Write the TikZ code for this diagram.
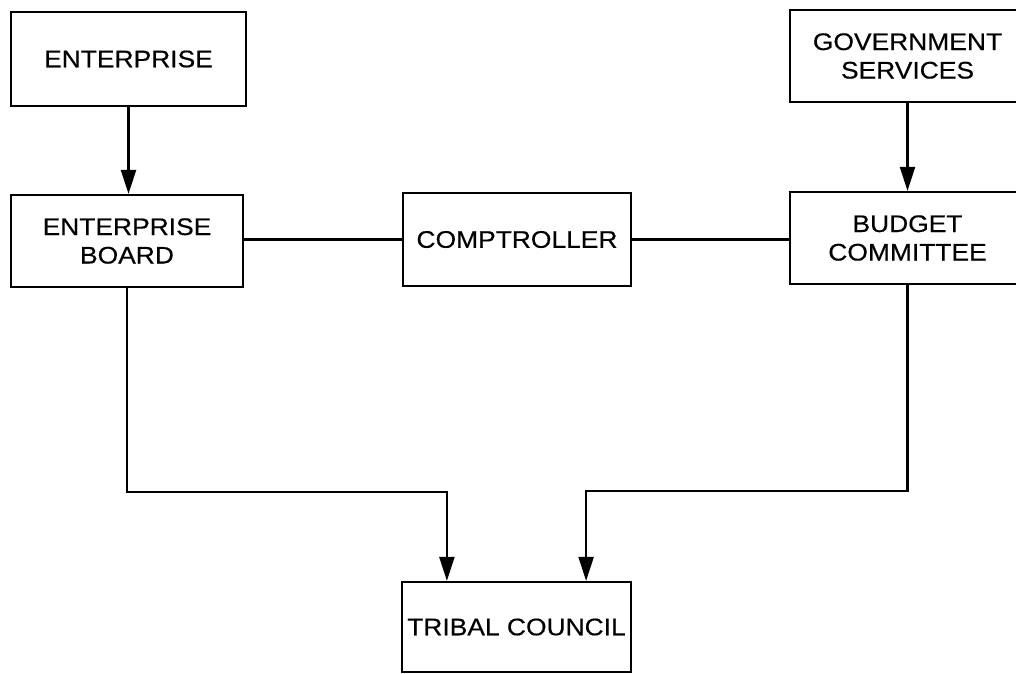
\documentclass[tikz,border=0pt]{standalone}
\usepackage{fontspec}
\setmainfont[FakeStretch=1.1,FakeBold=0.4]{Liberation Sans}
\usetikzlibrary{arrows.meta,positioning}

\tikzset{
  box/.style={draw, line width=2.2pt, inner sep=0pt, align=center,
    font=\fontsize{24}{28.5}\selectfont},
  link/.style={line width=2.2pt},
  arr/.style={line width=2.2pt, -{Triangle[length=24pt,width=15pt]}}
}

\begin{document}
\begin{tikzpicture}[x=1pt, y=-1pt]
  \useasboundingbox (0,0) rectangle (1016,673);
  \clip (0,0) rectangle (1016,673);

  % organisational units
  \node[box, minimum width=235pt, minimum height=94pt] (ent)    at (128.5,59)  {ENTERPRISE};
  \node[box, minimum width=232pt, minimum height=92pt] (board)  at (127,241)   {ENTERPRISE\\BOARD};
  \node[box, minimum width=228pt, minimum height=93pt] (comp)   at (517,239.5) {COMPTROLLER};
  \node[box, minimum width=235pt, minimum height=92pt] (gov)    at (907.5,56)  {GOVERNMENT\\SERVICES};
  \node[box, minimum width=235pt, minimum height=92pt] (budget) at (907.5,238) {BUDGET\\COMMITTEE};
  \node[box, minimum width=229pt, minimum height=90pt] (tribal) at (516.5,627) {TRIBAL COUNCIL};

  % reporting lines
  \draw[arr] (ent.south) -- (ent.south |- board.north);
  \draw[arr] (gov.south) -- (budget.north);
  \draw[link] (comp.west -| board.east) -- (comp.west);
  \draw[link] (comp.east) -- (comp.east -| budget.west);

  \coordinate (inL) at ([xshift=46pt]tribal.north west);
  \coordinate (inR) at ([xshift=-46pt]tribal.north east);
  \draw[arr] (board.south) -- ++(0,204) -| (inL);
  \draw[arr] (budget.south) -- ++(0,206) -| (inR);
\end{tikzpicture}
\end{document}
